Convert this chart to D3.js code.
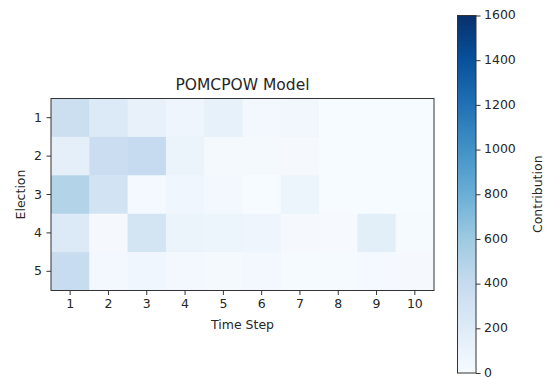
<!DOCTYPE html>
<html><head><meta charset="utf-8">
<script src="https://cdn.jsdelivr.net/npm/d3@7"></script>
<style>body{margin:0;background:#fff}svg{display:block}text{font-family:"DejaVu Sans",sans-serif;fill:#262626}</style>
</head><body><svg id="c" width="550" height="379"></svg>
<script>
const timeSteps = [1,2,3,4,5,6,7,8,9,10];
const elections = [1,2,3,4,5];
const row1 = [350, 220, 120, 70, 130, 35, 45, 6, 6, 6];
const row2 = [150, 360, 400, 90, 25, 25, 20, 6, 6, 6];
const row3 = [500, 300, 30, 60, 35, 5, 85, 6, 6, 6];
const row4 = [220, 20, 290, 95, 80, 75, 20, 12, 165, 15];
const row5 = [390, 35, 60, 35, 25, 35, 15, 15, 30, 20];
const rows = [row1,row2,row3,row4,row5];
const cbTicks = [0,200,400,600,800,1000,1200,1400,1600];
const vmax = 1600;

const blues = ["#f7fbff","#deebf7","#c6dbef","#9ecae1","#6baed6","#4292c6","#2171b5","#08519c","#08306b"];
const color = d3.scaleLinear().domain(blues.map((_,i)=>i/8*vmax)).range(blues).interpolate(d3.interpolateRgb).clamp(true);

const FS = "12.5px";
const svg = d3.select("#c");
const L=51, R=434, T=98.5, B=290.5;
const x = d3.scaleBand().domain(timeSteps).range([L,R]);
const y = d3.scaleBand().domain(elections).range([T,B]);

const cells = [];
rows.forEach((r,i)=>r.forEach((v,j)=>cells.push({e:elections[i],t:timeSteps[j],v})));
svg.append("g").selectAll("rect").data(cells).join("rect")
  .attr("x",d=>x(d.t)).attr("y",d=>y(d.e))
  .attr("width",x.bandwidth()+0.5).attr("height",y.bandwidth()+0.5)
  .attr("fill",d=>color(d.v));

svg.append("rect").attr("x",L).attr("y",T).attr("width",R-L).attr("height",B-T)
  .attr("fill","none").attr("stroke","#333").attr("stroke-width",1);

const xa = svg.append("g").attr("transform",`translate(0,${B})`)
  .call(d3.axisBottom(x).tickSize(4.5).tickPadding(4));
const ya = svg.append("g").attr("transform",`translate(${L},0)`)
  .call(d3.axisLeft(y).tickSize(4.5).tickPadding(4.5));
[xa,ya].forEach(a=>{a.select(".domain").remove();a.selectAll("line").attr("stroke","#333");
  a.selectAll("text").attr("font-size",FS).attr("font-family","DejaVu Sans").attr("fill","#262626");});

svg.append("text").attr("x",(L+R)/2).attr("y",90).attr("text-anchor","middle")
  .attr("font-size","15.5px").text("POMCPOW Model");
svg.append("text").attr("x",(L+R)/2).attr("y",329).attr("text-anchor","middle")
  .attr("font-size",FS).text("Time Step");
svg.append("text").attr("transform",`translate(25,${(T+B)/2}) rotate(-90)`).attr("text-anchor","middle")
  .attr("font-size",FS).text("Election");

// colorbar
const cL=457.5, cR=476, cT=15.5, cB=373;
const defs = svg.append("defs");
const grad = defs.append("linearGradient").attr("id","g").attr("x1",0).attr("y1",1).attr("x2",0).attr("y2",0);
blues.forEach((c,i)=>grad.append("stop").attr("offset",i/8).attr("stop-color",c));
svg.append("rect").attr("x",cL).attr("y",cT).attr("width",cR-cL).attr("height",cB-cT)
  .attr("fill","url(#g)").attr("stroke","#333").attr("stroke-width",1);
const cy = d3.scaleLinear().domain([0,vmax]).range([cB,cT]);
const ca = svg.append("g").attr("transform",`translate(${cR},0)`)
  .call(d3.axisRight(cy).tickValues(cbTicks).tickFormat(d3.format("d")).tickSize(4.5).tickPadding(3.5));
ca.select(".domain").remove();
ca.selectAll("line").attr("stroke","#333");
ca.selectAll("text").attr("font-size",FS).attr("font-family","DejaVu Sans").attr("fill","#262626").attr("dy","0.25em");
svg.append("text").attr("transform",`translate(542,${(cT+cB)/2}) rotate(-90)`).attr("text-anchor","middle")
  .attr("font-size",FS).text("Contribution");
</script></body></html>
